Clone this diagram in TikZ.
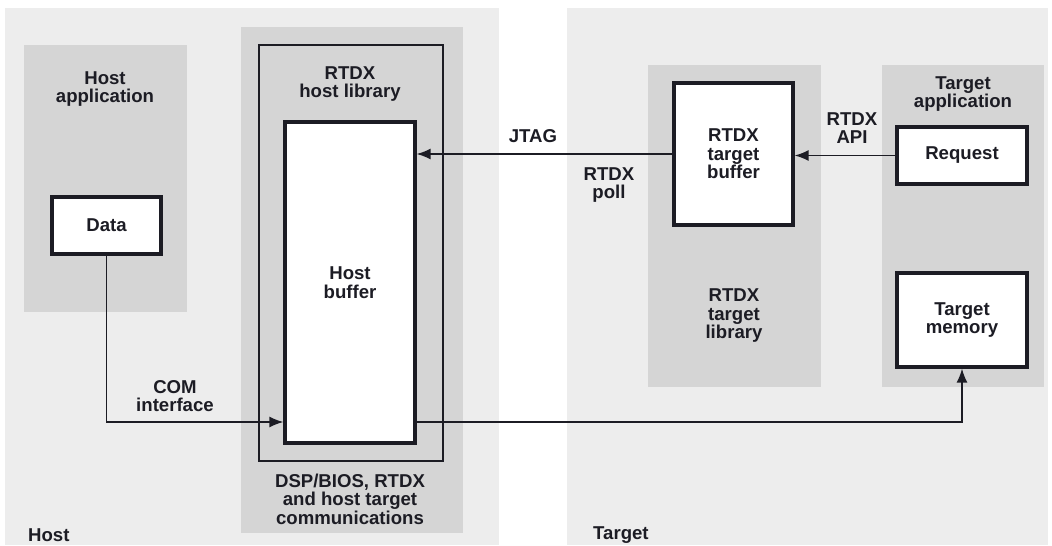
\documentclass[tikz,border=0pt]{standalone}
\usepackage{fontspec}
\setmainfont{Liberation Sans}
\usepackage{tikz}
\usetikzlibrary{arrows.meta}

\definecolor{hostbg}{HTML}{EDEDED}
\definecolor{groupbg}{HTML}{D5D5D5}
\definecolor{ink}{HTML}{1C1C24}

\tikzset{
    region/.style={fill=hostbg, inner sep=0pt},
    group/.style={fill=groupbg, inner sep=0pt},
    buf/.style={draw=ink, line width=3.2pt, fill=white, align=center, inner sep=0pt},
    txt/.style={align=center, inner sep=0pt, text=ink},
    flow/.style={draw=ink, line width=1.6pt, -{Latex[length=14pt,width=11pt]}},
}

\begin{document}
\begin{tikzpicture}[x=1pt, y=-1pt, color=ink,
        font=\fontsize{18.6}{18.5}\selectfont\bfseries]
        \useasboundingbox (0,0) rectangle (1052,546);

        % host and target sides
        \node[region, minimum width=494pt, minimum height=537pt] (host)   at (252,276.5)   {};
        \node[region, minimum width=481pt, minimum height=537pt] (target) at (807.5,276.5) {};

        \node[group, minimum width=163pt, minimum height=267pt] (hostapp)   at (105.5,178.5) {};
        \node[group, minimum width=222pt, minimum height=506pt] (comm)      at (352,280)     {};
        \node[draw, line width=1.5pt, inner sep=0pt,
              minimum width=184pt, minimum height=416pt]        (hostlib)   at (351,253)     {};
        \node[group, minimum width=173pt, minimum height=322pt] (targetlib) at (734.5,226)   {};
        \node[group, minimum width=162pt, minimum height=322pt] (targetapp) at (963,226)     {};

        % buffers
        \node[buf, minimum width=109pt, minimum height=57pt]  (data) at (106.5,225.5) {Data};
        \node[buf, minimum width=130pt, minimum height=321pt] (hbuf) at (350,282.5)   {Host\\buffer};
        \node[buf, minimum width=119pt, minimum height=142pt] (tbuf) at (733.5,154)   {RTDX\\target\\buffer};
        \node[buf, minimum width=130pt, minimum height=57pt]  (req)  at (962,155.5)   {Request};
        \node[buf, minimum width=130pt, minimum height=94pt]  (tmem) at (962,320)     {Target\\memory};

        % labels
        \node[txt] (hostapplbl) at (105,89)  {Host\\application};
        \node[txt] (hostliblbl) at (350,84)  {RTDX\\host library};
        \node[txt] (commlbl)    at (350,499) {DSP/BIOS, RTDX\\and host target\\communications};
        \node[txt] (tliblbl)    at (734,316) {RTDX\\target\\library};
        \node[txt] (tapplbl)    at (963,94)  {Target\\application};
        \node[txt] (jtaglbl)    at (533,136) {JTAG};
        \node[txt] (polllbl)    at (609,185) {RTDX\\poll};
        \node[txt] (apilbl)     at (852,128) {RTDX\\API};
        \node[txt] (comlbl)     at (175,396) {COM\\interface};
        \node[txt, anchor=west] (hostlbl)   at (28,535)  {Host};
        \node[txt, anchor=west] (targetlbl) at (593,535) {Target};

        \coordinate (jtagin) at (hbuf.east |- tbuf.west);
        \coordinate (apiin)  at (tbuf.east |- req.west);
        \coordinate (comin)  at (hbuf.west |- 0,422);
        \coordinate (memout) at (hbuf.east |- comin);

        \draw[flow] (tbuf)   -- (jtagin);
        \draw[flow] (req)    -- (apiin);
        \draw[flow] (data)   |- (comin);
        \draw[flow] (memout) -| (tmem);
    \end{tikzpicture}
\end{document}
